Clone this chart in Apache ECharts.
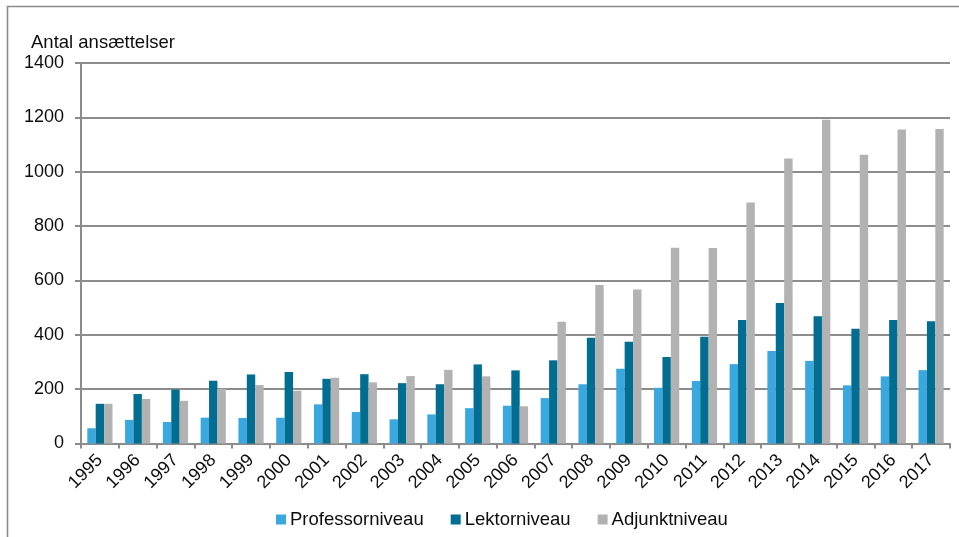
<!DOCTYPE html>
<html>
<head>
<meta charset="utf-8">
<script src="https://cdn.jsdelivr.net/npm/echarts@6/dist/echarts.min.js"></script>
<style>
  html, body { margin: 0; padding: 0; background: #ffffff; }
  #chart { width: 959px; height: 537px; }
</style>
</head>
<body>
<div id="chart"></div>
<script>
// Ansættelser pr. år fordelt på stillingsniveau
const years = ['1995','1996','1997','1998','1999','2000','2001','2002','2003','2004','2005','2006',
               '2007','2008','2009','2010','2011','2012','2013','2014','2015','2016','2017'];
const professorniveau = [56, 87, 79, 95, 94, 95, 144, 116, 89, 107, 130, 139,
                         167, 218, 275, 205, 230, 292, 340, 304, 214, 247, 270];
const lektorniveau    = [146, 182, 198, 231, 254, 263, 238, 255, 222, 218, 291, 269,
                         306, 389, 374, 318, 393, 454, 517, 468, 422, 454, 450];
const adjunktniveau   = [146, 164, 157, 201, 215, 194, 242, 225, 248, 271, 247, 137,
                         448, 583, 567, 720, 719, 887, 1049, 1191, 1062, 1155, 1157];
const yTicks = { min: 0, max: 1400, step: 200 };

const FONT = '"Liberation Sans", Arial, sans-serif';
const GRID_GRAY = '#8c8c8c';
const TEXT = '#0d0d0d';

const chart = echarts.init(document.getElementById('chart'), null, { renderer: 'canvas' });

function barSeries(name, data, color) {
  return {
    name: name,
    type: 'bar',
    data: data,
    barWidth: 8.4,
    barGap: '0%',
    itemStyle: { color: color },
    emphasis: { disabled: true }
  };
}

chart.setOption({
  animation: false,
  backgroundColor: '#ffffff',
  textStyle: { fontFamily: FONT },
  title: {
    text: 'Antal ansættelser',
    left: 31,
    top: 33,
    padding: 0,
    textStyle: { fontFamily: FONT, fontSize: 18.5, fontWeight: 'normal', color: TEXT }
  },
  graphic: [{
    type: 'rect',
    shape: { x: 7.5, y: 6.5, width: 960, height: 540 },
    style: { fill: 'none', stroke: GRID_GRAY, lineWidth: 1.6 },
    silent: true
  }],
  legend: {
    left: 271,
    top: 505,
    itemWidth: 10,
    itemHeight: 10,
    itemGap: 27,
    icon: 'rect',
    textStyle: { fontFamily: FONT, fontSize: 18.5, color: TEXT, padding: [0, 0, 0, -1] },
    data: ['Professorniveau', 'Lektorniveau', 'Adjunktniveau']
  },
  grid: { left: 81, right: 9, top: 63, bottom: 93.5, containLabel: false },
  xAxis: {
    type: 'category',
    data: years,
    boundaryGap: true,
    axisLine: { lineStyle: { color: GRID_GRAY, width: 2 } },
    axisTick: { show: true, length: 5, lineStyle: { color: GRID_GRAY, width: 2 } },
    axisLabel: {
      rotate: 45,
      margin: 14,
      fontFamily: FONT,
      fontSize: 18,
      color: TEXT,
      interval: 0
    }
  },
  yAxis: {
    type: 'value',
    min: yTicks.min,
    max: yTicks.max,
    interval: yTicks.step,
    axisLine: { show: true, lineStyle: { color: GRID_GRAY, width: 2 } },
    axisTick: { show: true, length: 6, lineStyle: { color: GRID_GRAY, width: 2 } },
    axisLabel: {
      margin: 17,
      fontFamily: FONT,
      fontSize: 18,
      color: TEXT,
      formatter: function (v) { return String(v); }
    },
    splitLine: { lineStyle: { color: GRID_GRAY, width: 2 } }
  },
  series: [
    barSeries('Professorniveau', professorniveau, '#3aa8df'),
    barSeries('Lektorniveau', lektorniveau, '#006d91'),
    barSeries('Adjunktniveau', adjunktniveau, '#b2b2b2')
  ]
});
</script>
</body>
</html>
